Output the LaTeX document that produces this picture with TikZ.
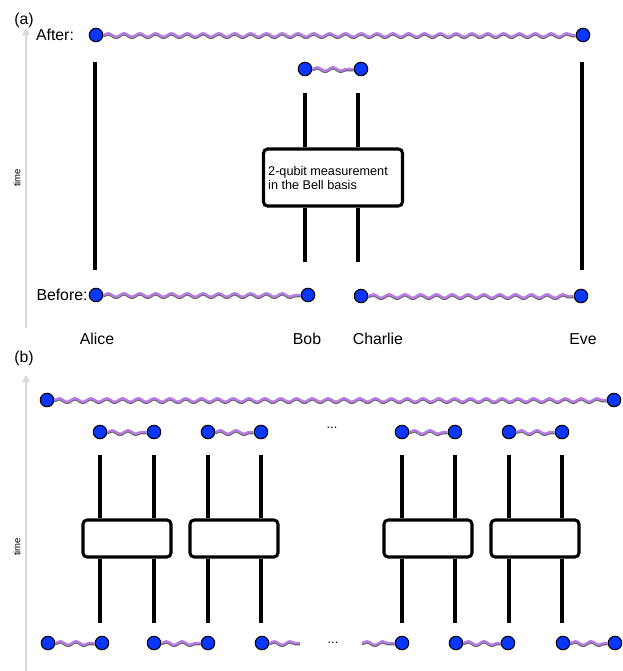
\documentclass[tikz,border=0pt]{standalone}
\usepackage{fontspec}
\setmainfont{Liberation Sans}
\usetikzlibrary{decorations.pathmorphing,arrows.meta}
\definecolor{qubitblue}{RGB}{10,55,255}
\definecolor{bondpurple}{RGB}{183,125,228}
\tikzset{
	qubit/.style={circle, draw=black, line width=0.9pt, fill=qubitblue, inner sep=0pt, minimum size=11.5pt},
	bond/.style={draw=bondpurple, line width=2pt, decorate, decoration={snake, amplitude=1.5pt, segment length=13.5pt}},
	bondshade/.style={bond, draw=black!60, transform canvas={yshift=-1pt}},
	wire/.style={line width=2.8pt},
	gate/.style={draw, line width=2.6pt, rounded corners=3.5pt, fill=white, inner sep=0pt},
	timeaxis/.style={draw=black!15, line width=1.6pt, -{Triangle[width=6pt,length=6pt]}},
	timelabel/.style={rotate=90, font=\fontsize{8.1}{9}\selectfont}
}
\def\link(#1)(#2){\draw[bondshade] (#1) -- (#2); \draw[bond] (#1) -- (#2);}

\begin{document}
\begin{tikzpicture}[x=0.03cm, y=-0.03cm, font=\fontsize{13.5}{16}\selectfont]
	%%%%% START %%%%%
	\useasboundingbox (0,0) rectangle (623,671);

	%%%%% (a) %%%%%
	\node (labelA) at (24,20) {(a)};
	\draw[timeaxis] (26,328) -- (26,28);
	\node[timelabel] (timeA) at (17,178) {time};

	\node (after) at (55,35) {After:};
	\node[qubit] (afterA) at (96,35) {};
	\node[qubit] (afterE) at (583,35) {};
	\node[qubit] (afterB) at (305,69) {};
	\node[qubit] (afterC) at (361,69) {};
	\link(afterA)(afterE)
	\link(afterB)(afterC)

	\node[gate, minimum width=4.17cm, minimum height=1.71cm] (bell) at (333,177.5) {};
	\node[anchor=west, align=left, inner sep=0pt, font=\fontsize{10.8}{11.2}\selectfont] (bellText) at (268,178) {2-qubit measurement\\in the Bell basis};

	\coordinate (aliceTop) at (95,62);
	\coordinate (aliceBot) at (95,270);
	\coordinate (eveTop) at (582,62);
	\coordinate (eveBot) at (582,270);
	\coordinate (bobTop) at (305,93);
	\coordinate (bobBot) at (305,262);
	\coordinate (charlieTop) at (358,93);
	\coordinate (charlieBot) at (358,262);
	\draw[wire] (aliceTop) -- (aliceBot);
	\draw[wire] (eveTop) -- (eveBot);
	\draw[wire] (bobTop) -- (bobTop |- bell.north);
	\draw[wire] (bobBot) -- (bobBot |- bell.south);
	\draw[wire] (charlieTop) -- (charlieTop |- bell.north);
	\draw[wire] (charlieBot) -- (charlieBot |- bell.south);

	\node (before) at (62,295) {Before:};
	\node[qubit] (beforeA) at (96,295) {};
	\node[qubit] (beforeB) at (308,295) {};
	\node[qubit] (beforeC) at (361,296) {};
	\node[qubit] (beforeE) at (581,296) {};
	\link(beforeA)(beforeB)
	\link(beforeC)(beforeE)

	\node (alice) at (97,339) {Alice};
	\node (bob) at (307,339) {Bob};
	\node (charlie) at (378,339) {Charlie};
	\node (eve) at (583,339) {Eve};

	%%%%% (b) %%%%%
	\node (labelB) at (24,358) {(b)};
	\draw[timeaxis] (26,671) -- (26,375);
	\node[timelabel] (timeB) at (17,547) {time};

	\node[qubit] (topL) at (47,400) {};
	\node[qubit] (topR) at (614,400) {};
	\link(topL)(topR)

	\node[qubit] (out1) at (100,432) {};
	\node[qubit] (out2) at (154,432) {};
	\node[qubit] (out3) at (208,432) {};
	\node[qubit] (out4) at (261,432) {};
	\node[qubit] (out5) at (402,432) {};
	\node[qubit] (out6) at (455,432) {};
	\node[qubit] (out7) at (509,432) {};
	\node[qubit] (out8) at (562,432) {};
	\link(out1)(out2)
	\link(out3)(out4)
	\link(out5)(out6)
	\link(out7)(out8)
	\node[font=\fontsize{11}{12}\selectfont] (dotsTop) at (332,428) {...};

	\node[gate, minimum width=2.64cm, minimum height=1.11cm] (gate1) at (127,538.5) {};
	\node[gate, minimum width=2.64cm, minimum height=1.11cm] (gate2) at (234,538.5) {};
	\node[gate, minimum width=2.64cm, minimum height=1.11cm] (gate3) at (428,538.5) {};
	\node[gate, minimum width=2.64cm, minimum height=1.11cm] (gate4) at (535,538.5) {};

	\coordinate (w1) at (100,455);
	\coordinate (w2) at (154,455);
	\coordinate (w3) at (208,455);
	\coordinate (w4) at (261,455);
	\coordinate (w5) at (402,455);
	\coordinate (w6) at (455,455);
	\coordinate (w7) at (509,455);
	\coordinate (w8) at (562,455);
	\coordinate (v1) at (100,623);
	\coordinate (v2) at (154,623);
	\coordinate (v3) at (208,623);
	\coordinate (v4) at (261,623);
	\coordinate (v5) at (402,623);
	\coordinate (v6) at (455,623);
	\coordinate (v7) at (509,623);
	\coordinate (v8) at (562,623);
	\draw[wire] (w1) -- (w1 |- gate1.north);
	\draw[wire] (w2) -- (w2 |- gate1.north);
	\draw[wire] (w3) -- (w3 |- gate2.north);
	\draw[wire] (w4) -- (w4 |- gate2.north);
	\draw[wire] (w5) -- (w5 |- gate3.north);
	\draw[wire] (w6) -- (w6 |- gate3.north);
	\draw[wire] (w7) -- (w7 |- gate4.north);
	\draw[wire] (w8) -- (w8 |- gate4.north);
	\draw[wire] (v1) -- (v1 |- gate1.south);
	\draw[wire] (v2) -- (v2 |- gate1.south);
	\draw[wire] (v3) -- (v3 |- gate2.south);
	\draw[wire] (v4) -- (v4 |- gate2.south);
	\draw[wire] (v5) -- (v5 |- gate3.south);
	\draw[wire] (v6) -- (v6 |- gate3.south);
	\draw[wire] (v7) -- (v7 |- gate4.south);
	\draw[wire] (v8) -- (v8 |- gate4.south);

	\node[qubit] (in1) at (48,643) {};
	\node[qubit] (in2) at (102,643) {};
	\node[qubit] (in3) at (154,643) {};
	\node[qubit] (in4) at (208,643) {};
	\node[qubit] (in5) at (262,643) {};
	\coordinate (cut1) at (300,643);
	\coordinate (cut2) at (362,643);
	\node[qubit] (in6) at (402,643) {};
	\node[qubit] (in7) at (456,643) {};
	\node[qubit] (in8) at (508,643) {};
	\node[qubit] (in9) at (563,643) {};
	\node[qubit] (in10) at (615,643) {};
	\link(in1)(in2)
	\link(in3)(in4)
	\link(in5)(cut1)
	\link(cut2)(in6)
	\link(in7)(in8)
	\link(in9)(in10)
	\node[font=\fontsize{11}{12}\selectfont] (dotsBot) at (333,643) {...};

	%%%%% END %%%%%
\end{tikzpicture}
\end{document}
